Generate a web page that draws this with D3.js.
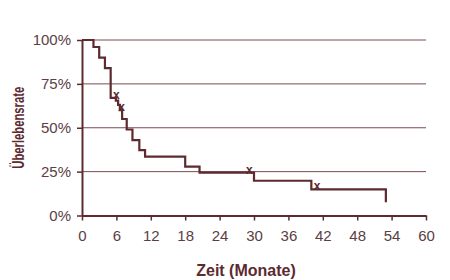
<!DOCTYPE html>
<html>
<head>
<meta charset="utf-8">
<script src="https://cdn.jsdelivr.net/npm/d3@7"></script>
<style>
  body { margin: 0; background: #fff; }
  svg { font-family: "Liberation Sans", Arial, sans-serif; }
</style>
</head>
<body>
<div id="chart"></div>
<script>
// Kaplan-Meier Kurve (Monate, Prozent)
var months   = [0, 2, 3, 4, 5, 5.9, 6.3, 6.6, 7, 7.8, 8.8, 10, 11, 18, 20.5, 30, 40, 53];
var survival = [100, 96, 90, 84, 67, 65.4, 63, 60, 55, 49, 43, 37.3, 33.5, 27.8, 24.4, 19.8, 14.9, 7.5];

// zensierte Patienten (x-Markierungen)
var censorMonths   = [6, 6.9, 29.2, 41];
var censorSurvival = [67, 60, 24.4, 14.9];

var xTicks = [0, 6, 12, 18, 24, 30, 36, 42, 48, 54, 60];
var yTicks = [0, 25, 50, 75, 100];

var width = 450, height = 280;
var margin = {top: 40, right: 24, bottom: 64.5, left: 82};

var svg = d3.select("#chart").append("svg")
  .attr("width", width)
  .attr("height", height);

var x = d3.scaleLinear().domain([0, 60]).range([margin.left, width - margin.right]);
var y = d3.scaleLinear().domain([0, 100]).range([height - margin.bottom, margin.top]);

var dark = "#5c2a2f";

// gridlines
svg.append("g")
  .selectAll("line")
  .data(yTicks.filter(function(d) { return d > 0; }))
  .enter().append("line")
  .attr("x1", x(0)).attr("x2", x(60))
  .attr("y1", function(d) { return y(d); })
  .attr("y2", function(d) { return y(d); })
  .attr("stroke", "#7d4a4f")
  .attr("stroke-width", 1);

// axes
var xAxis = svg.append("g")
  .attr("transform", "translate(0," + y(0) + ")")
  .call(d3.axisBottom(x).tickValues(xTicks).tickSize(5).tickSizeOuter(0).tickPadding(6));
var yAxis = svg.append("g")
  .attr("transform", "translate(" + x(0) + ",0)")
  .call(d3.axisLeft(y).tickValues(yTicks).tickSize(5).tickSizeOuter(0).tickPadding(6)
    .tickFormat(function(d) { return d + "%"; }));

[xAxis, yAxis].forEach(function(a) {
  a.select(".domain").attr("stroke", dark).attr("stroke-width", 2);
  a.selectAll(".tick line").attr("stroke", dark).attr("stroke-width", 1.5);
  a.selectAll(".tick text")
    .attr("fill", "#5a4044")
    .style("font-size", "15px")
    .style("font-family", "'Liberation Sans', Arial, sans-serif");
});
xAxis.selectAll(".tick text").attr("dy", "0.95em");

// survival curve
var line = d3.line()
  .x(function(d, i) { return x(months[i]); })
  .y(function(d, i) { return y(survival[i]); })
  .curve(d3.curveStepAfter);

svg.append("path")
  .datum(survival)
  .attr("d", line)
  .attr("fill", "none")
  .attr("stroke", dark)
  .attr("stroke-width", 2.2);

// censor marks
svg.append("g")
  .selectAll("text")
  .data(censorMonths)
  .enter().append("text")
  .attr("x", function(d) { return x(d); })
  .attr("y", function(d, i) { return y(censorSurvival[i]) + 1; })
  .attr("text-anchor", "middle")
  .attr("fill", dark)
  .style("font-size", "12px")
  .style("font-weight", "bold")
  .text("x");

// axis titles
svg.append("text")
  .attr("x", 246)
  .attr("y", 276)
  .attr("text-anchor", "middle")
  .attr("fill", dark)
  .style("font-size", "16px")
  .style("font-weight", "bold")
  .text("Zeit (Monate)");

svg.append("text")
  .attr("transform", "translate(23.5," + y(50) + ") rotate(-90)")
  .attr("text-anchor", "middle")
  .attr("fill", dark)
  .style("font-size", "16px")
  .style("font-weight", "bold")
  .attr("textLength", 82)
  .attr("lengthAdjust", "spacingAndGlyphs")
  .text("Überlebensrate");
</script>
</body>
</html>
